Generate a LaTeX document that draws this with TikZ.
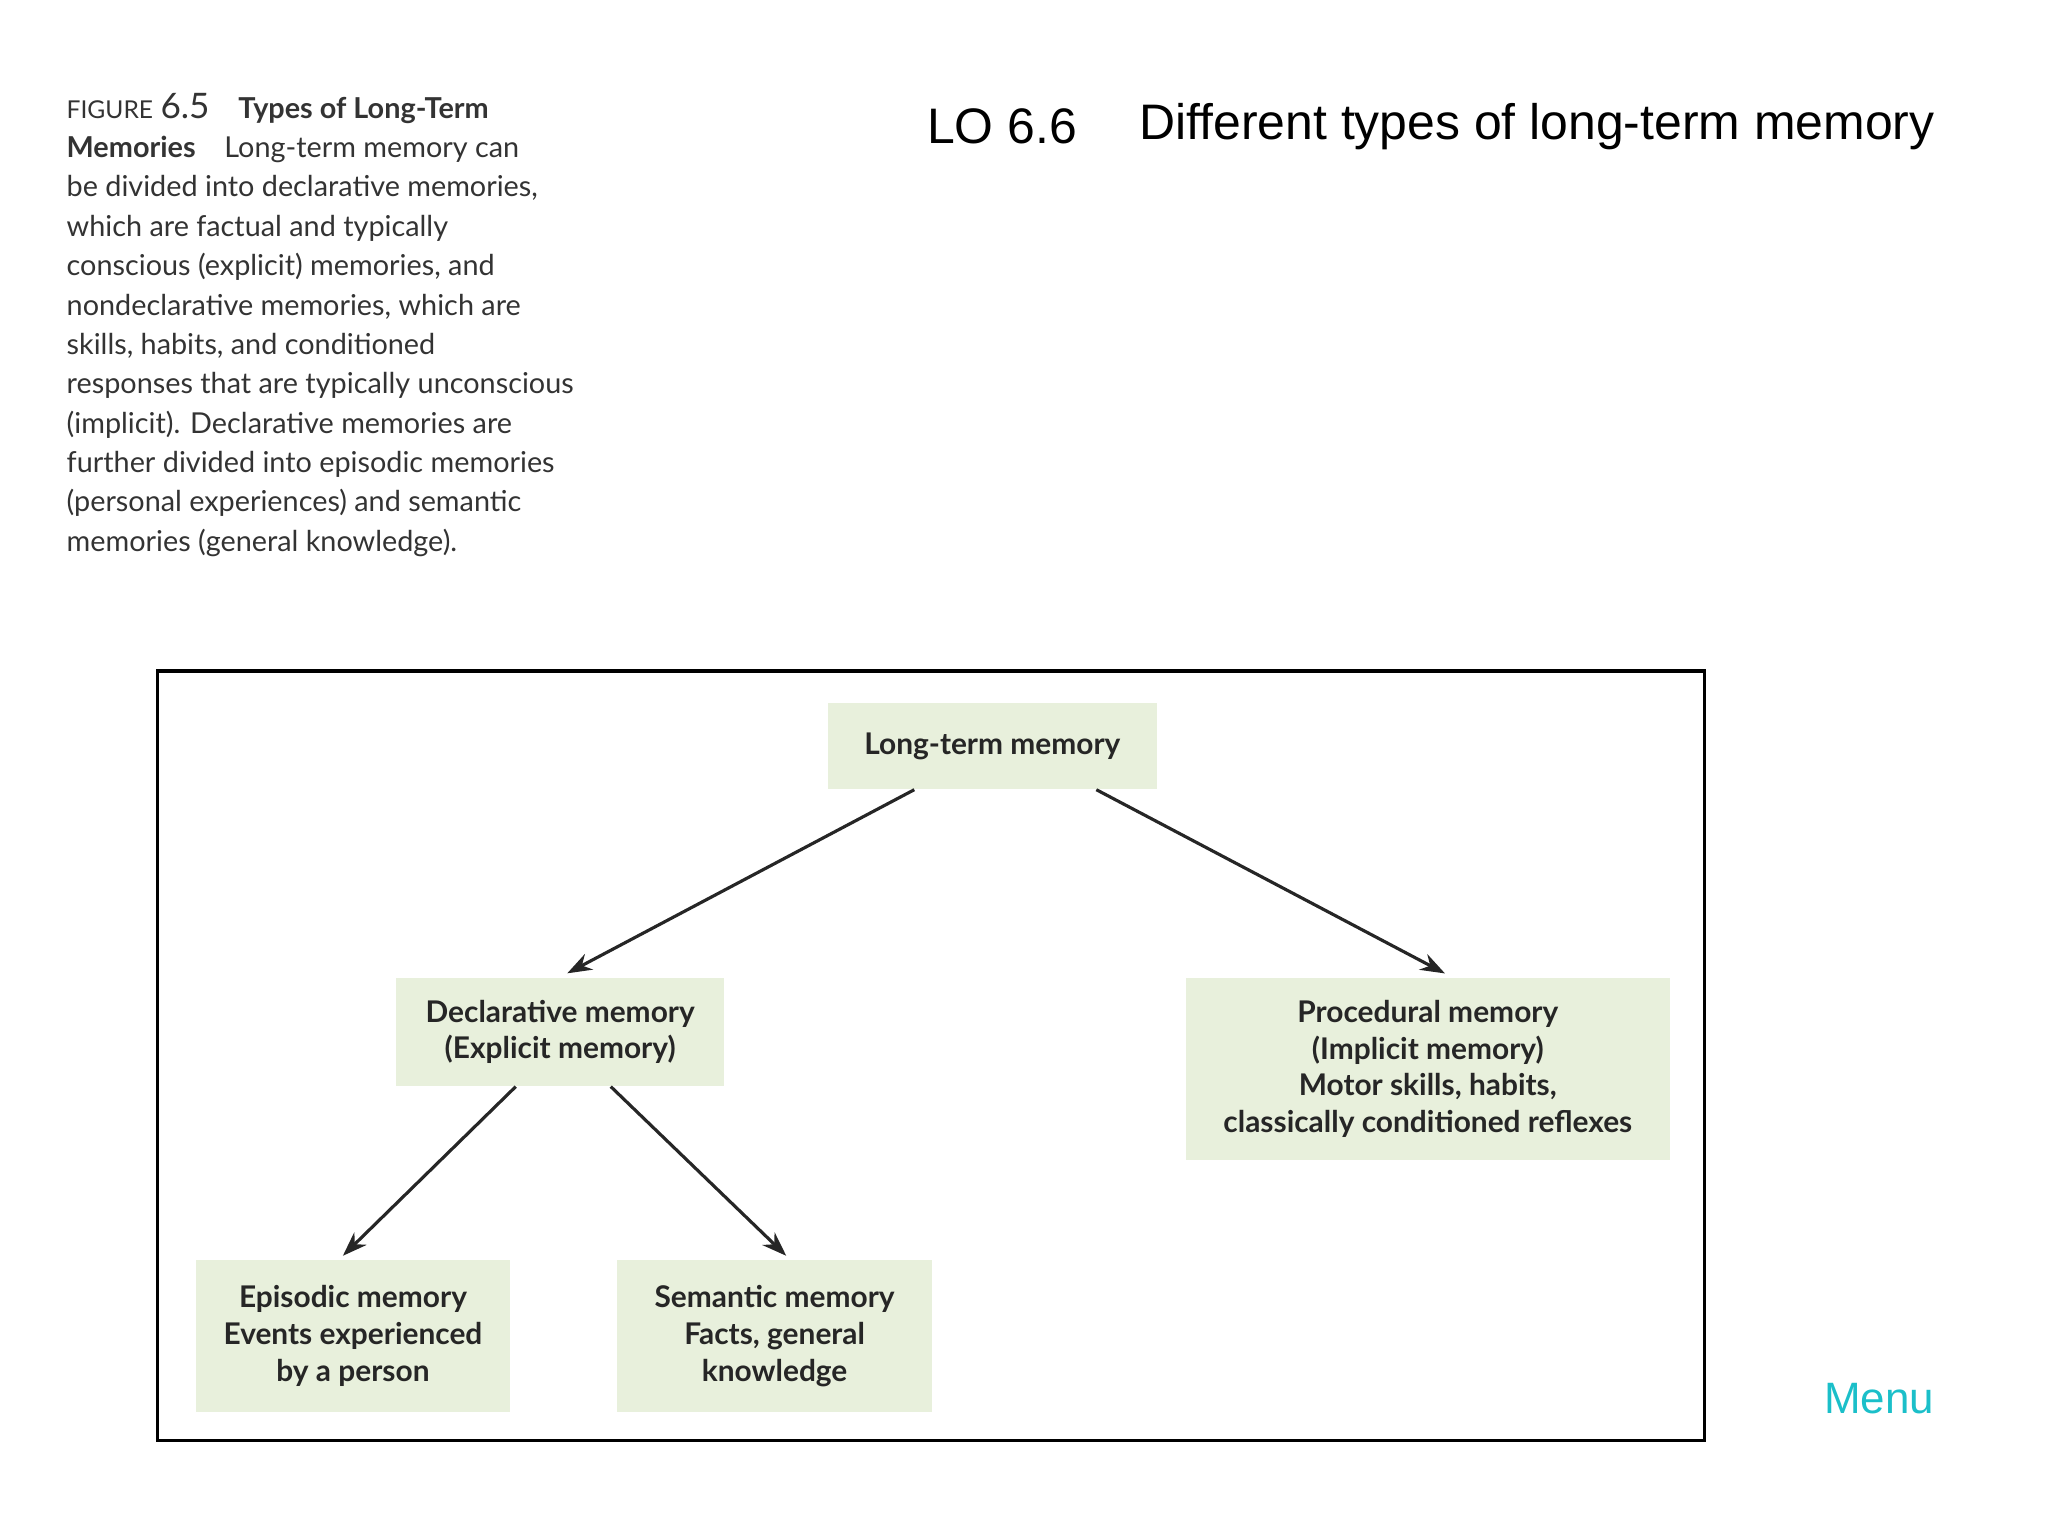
\documentclass[tikz,border=0pt]{standalone}
\usepackage{fontspec}
\setmainfont{Liberation Sans}
\newfontfamily\capfont{Lato}
\usetikzlibrary{calc,arrows.meta}
\definecolor{boxfill}{HTML}{E8F0DC}
\definecolor{menucol}{HTML}{1BBFC9}
\tikzset{
  mbox/.style={fill=boxfill,draw=none,inner sep=0pt,align=center,font=\capfont\bfseries\fontsize{8.5}{10.5}\selectfont,text=black!85},
  arr/.style={-{Stealth[length=7pt,width=5pt]},line width=0.9pt,black!85}
}
\begin{document}
\begin{tikzpicture}[x=0.013196cm,y=-0.013196cm]
\useasboundingbox (0,0) rectangle (1552,1164);
\node[anchor=north west,align=left,inner sep=0pt,font=\capfont\fontsize{8.2}{11.2}\selectfont,text=black!80] (cap) at (50,70) {%
{\fontsize{7}{11.2}\selectfont FIGURE} {\fontsize{10}{11.2}\selectfont 6.5}\quad\textbf{Types of Long-Term}\\
\textbf{Memories}\quad Long-term memory can\\
be divided into declarative memories,\\
which are factual and typically\\
conscious (explicit) memories, and\\
nondeclarative memories, which are\\
skills, habits, and conditioned\\
responses that are typically unconscious\\
(implicit). Declarative memories are\\
further divided into episodic memories\\
(personal experiences) and semantic\\
memories (general knowledge).};
\node[anchor=west,inner sep=0pt,font=\fontsize{14.2}{17}\selectfont] (lo) at (702,96) {LO 6.6};
\node[anchor=west,inner sep=0pt,font=\fontsize{14.2}{17}\selectfont] (title) at (863,96) {Different types of long-term memory};
\node[draw,line width=1pt,minimum width=1176*0.3744pt,minimum height=585*0.3744pt,inner sep=0pt,anchor=north west] (frame) at (118,507) {};
\node[mbox,minimum width=250*0.3744pt,minimum height=65*0.3744pt] (ltm) at (752,565.5) {Long-term memory};
\node[mbox,minimum width=249*0.3744pt,minimum height=82*0.3744pt] (decl) at (424.5,782) {Declarative memory\\(Explicit memory)};
\node[mbox,minimum width=368*0.3744pt,minimum height=138*0.3744pt] (proc) at (1082,810) {Procedural memory\\(Implicit memory)\\Motor skills, habits,\\classically conditioned reflexes};
\node[mbox,minimum width=239*0.3744pt,minimum height=115*0.3744pt] (epi) at (267.5,1012.5) {Episodic memory\\Events experienced\\by a person};
\node[mbox,minimum width=240*0.3744pt,minimum height=115*0.3744pt] (sem) at (587,1012.5) {Semantic memory\\Facts, general\\knowledge};
\draw[arr] ($(ltm.south west)+(66,0)$) -- ($(decl.north west)+(130,-3)$);
\draw[arr] ($(ltm.south west)+(204,0)$) -- ($(proc.north west)+(197,-3)$);
\draw[arr] ($(decl.south west)+(91,0)$) -- ($(epi.north west)+(112,-3)$);
\draw[arr] ($(decl.south west)+(163,0)$) -- ($(sem.north west)+(129,-3)$);
\node[text=menucol,font=\fontsize{12.5}{15}\selectfont,inner sep=0pt] (menu) at (1424,1060) {Menu};
\end{tikzpicture}
\end{document}
